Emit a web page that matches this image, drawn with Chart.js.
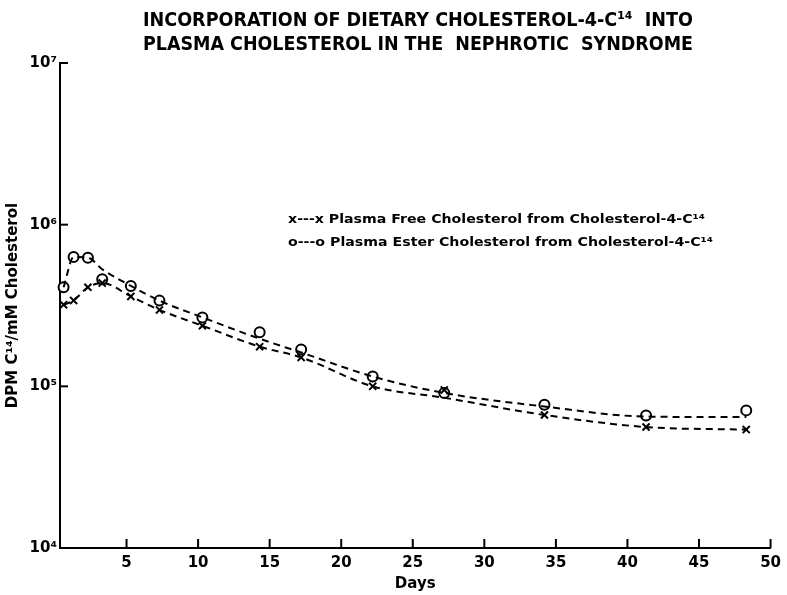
<!DOCTYPE html>
<html>
<head>
<meta charset="utf-8">
<script src="https://cdn.jsdelivr.net/npm/chart.js@4/dist/chart.umd.min.js"></script>
<style>
html,body{margin:0;padding:0;background:#fff;}
#wrap{width:787px;height:595px;position:relative;}
</style>
</head>
<body>
<div id="wrap"><canvas id="c" width="787" height="595"></canvas></div>
<script>
// ---- data ----
const titleLines = ["INCORPORATION OF DIETARY CHOLESTEROL-4-C\u00b9\u2074  INTO", "PLASMA CHOLESTEROL IN THE  NEPHROTIC  SYNDROME"];
const days = [0.6, 1.3, 2.3, 3.3, 5.3, 7.3, 10.3, 14.3, 17.2, 22.2, 27.2, 34.2, 41.3, 48.3];
// measured points
const freeVals  = [3.2e5, 3.4e5, 4.1e5, 4.35e5, 3.6e5, 2.97e5, 2.37e5, 1.76e5, 1.51e5, 1.0e5, 9.5e4, 6.65e4, 5.6e4, 5.4e4];
const esterVals = [4.1e5, 6.3e5, 6.25e5, 4.6e5, 4.18e5, 3.39e5, 2.67e5, 2.16e5, 1.69e5, 1.15e5, 9.1e4, 7.7e4, 6.6e4, 7.1e4];
// hand-drawn fitted curves (at the same days)
const freeCurve  = [3.2e5, 3.4e5, 4.1e5, 4.35e5, 3.6e5, 2.97e5, 2.37e5, 1.76e5, 1.51e5, 1.0e5, 8.5e4, 6.65e4, 5.6e4, 5.4e4];
const esterCurve = [4.1e5, 6.3e5, 6.25e5, 5.3e5, 4.18e5, 3.39e5, 2.67e5, 1.97e5, 1.62e5, 1.15e5, 9.1e4, 7.5e4, 6.5e4, 6.45e4];
const seriesLabels = ["Plasma Free Cholesterol from Cholesterol-4-C\u00b9\u2074", "Plasma Ester Cholesterol from Cholesterol-4-C\u00b9\u2074"];
const legendMarks = ["x---x", "o---o"];
const xTicks = [5, 10, 15, 20, 25, 30, 35, 40, 45, 50];
const yTicks = [1e4, 1e5, 1e6, 1e7];
const xTitle = "Days";
const yTitle = "DPM C\u00b9\u2074/mM Cholesterol";

const sup = {'0':'\u2070','1':'\u00b9','2':'\u00b2','3':'\u00b3','4':'\u2074','5':'\u2075','6':'\u2076','7':'\u2077','8':'\u2078','9':'\u2079'};
function powLabel(v){ const e = Math.round(Math.log10(v)); return '10' + String(e).split('').map(d=>sup[d]).join(''); }

const FONT = "'DejaVu Sans', 'Liberation Sans', sans-serif";

const decor = {
  id: 'decor',
  afterDraw(chart){
    const ctx = chart.ctx, ca = chart.chartArea;
    const xs = chart.scales.x, ys = chart.scales.y;
    ctx.save();
    // inward tick marks
    ctx.strokeStyle = '#000'; ctx.lineWidth = 2;
    xTicks.forEach(v => {
      const px = xs.getPixelForValue(v);
      ctx.beginPath(); ctx.moveTo(px, ca.bottom); ctx.lineTo(px, ca.bottom - 9); ctx.stroke();
    });
    yTicks.forEach(v => {
      if (v === yTicks[0]) return;
      const py = ys.getPixelForValue(v);
      ctx.beginPath(); ctx.moveTo(ca.left, py); ctx.lineTo(ca.left + 8, py); ctx.stroke();
    });
    // title
    ctx.fillStyle = '#000';
    ctx.textAlign = 'left'; ctx.textBaseline = 'middle';
    ctx.font = "bold 20px 'DejaVu Sans Condensed', " + FONT;
    const tY = [21, 45];
    titleLines.forEach((t, i) => {
      const w = ctx.measureText(t).width;
      const s = 550 / w;
      ctx.save();
      ctx.translate(143, tY[i]);
      ctx.scale(s, 1);
      ctx.fillText(t, 0, 0);
      ctx.restore();
    });
    // legend
    ctx.font = "bold 13px " + FONT;
    const lY = [220, 243];
    const lEnd = [705, 713];
    seriesLabels.forEach((t, i) => {
      const full = legendMarks[i] + ' ' + t;
      const w = ctx.measureText(full).width;
      const s = (lEnd[i] - 288) / w;
      ctx.save();
      ctx.translate(288, lY[i]);
      ctx.scale(s, 1);
      ctx.fillText(full, 0, 0);
      ctx.restore();
    });
    ctx.restore();
  }
};

const curveStyle = { borderColor: '#000', borderWidth: 2, borderDash: [7, 5], pointRadius: 0, cubicInterpolationMode: 'monotone', clip: false, fill: false };

new Chart(document.getElementById('c'), {
  type: 'line',
  data: {
    datasets: [
      Object.assign({ label: seriesLabels[0] + ' curve', data: days.map((d, i) => ({x: d, y: freeCurve[i]})) }, curveStyle),
      Object.assign({ label: seriesLabels[1] + ' curve', data: days.map((d, i) => ({x: d, y: esterCurve[i]})) }, curveStyle),
      {
        label: seriesLabels[0],
        data: days.map((d, i) => ({x: d, y: freeVals[i]})),
        showLine: false,
        pointStyle: 'crossRot', pointRadius: 5, pointBorderWidth: 2,
        pointBorderColor: '#000', pointBackgroundColor: '#fff',
        clip: false
      },
      {
        label: seriesLabels[1],
        data: days.map((d, i) => ({x: d, y: esterVals[i]})),
        showLine: false,
        pointStyle: 'circle', pointRadius: 5, pointBorderWidth: 2,
        pointBorderColor: '#000', pointBackgroundColor: '#fff',
        clip: false
      }
    ]
  },
  options: {
    responsive: false, animation: false,
    layout: { padding: { top: 63, right: 15, left: 0, bottom: 0 } },
    plugins: { legend: { display: false }, title: { display: false }, tooltip: { enabled: false } },
    scales: {
      x: {
        type: 'linear', min: 0.35, max: 50,
        afterBuildTicks: s => { s.ticks = xTicks.map(v => ({value: v})); },
        afterFit: s => { s.height = 47; },
        grid: { display: false, drawTicks: false },
        border: { display: true, color: '#000', width: 2 },
        ticks: { color: '#000', padding: 6, font: { family: FONT, size: 15, weight: 'bold' }, maxRotation: 0 },
        title: { display: true, text: xTitle, color: '#000', padding: { top: 0, bottom: 2 }, font: { family: FONT, size: 15, weight: 'bold' } }
      },
      y: {
        type: 'logarithmic', min: 1e4, max: 1e7,
        afterBuildTicks: s => { s.ticks = yTicks.map(v => ({value: v})); },
        afterFit: s => { s.width = 60; },
        grid: { display: false, drawTicks: false },
        border: { display: true, color: '#000', width: 2 },
        ticks: { color: '#000', padding: 3, font: { family: FONT, size: 15, weight: 'bold' }, callback: v => powLabel(v) },
        title: { display: true, text: yTitle, color: '#000', padding: { top: 4, bottom: 0 }, font: { family: FONT, size: 15, weight: 'bold' } }
      }
    }
  },
  plugins: [decor]
});
</script>
</body>
</html>
